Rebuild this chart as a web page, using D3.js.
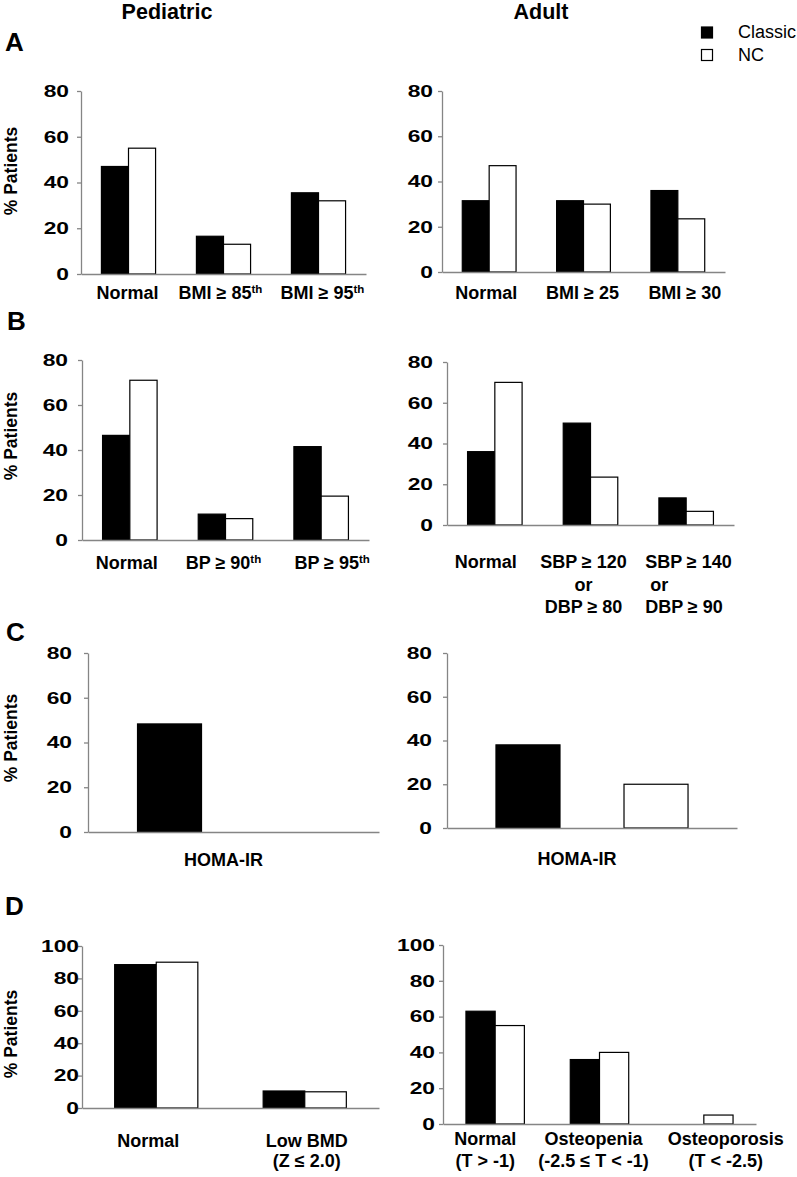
<!DOCTYPE html>
<html>
<head>
<meta charset="utf-8">
<script src="https://cdn.jsdelivr.net/npm/d3@7"></script>
<style>
  html, body { margin: 0; padding: 0; background: #fff; }
  svg { display: block; }
  text { font-family: "Liberation Sans", Arial, sans-serif; fill: #000; }
</style>
</head>
<body>
<svg id="chart" width="797" height="1177"></svg>
<script>
// ---------------- DATA ----------------
const seriesNames = ["Classic", "NC"];
const ticks80 = [0, 20, 40, 60, 80];
const ticks100 = [0, 20, 40, 60, 80, 100];

// "|" separates lines, "^" marks superscript
const catA_ped = ["Normal", "BMI ≥ 85^th", "BMI ≥ 95^th"];
const classicA_ped = [47, 16.5, 35.5];
const ncA_ped = [55, 13, 32];

const catA_adult = ["Normal", "BMI ≥ 25", "BMI ≥ 30"];
const classicA_adult = [31.5, 31.5, 36];
const ncA_adult = [47, 30, 23.5];

const catB_ped = ["Normal", "BP ≥ 90^th", "BP ≥ 95^th"];
const classicB_ped = [46.5, 11.5, 41.5];
const ncB_ped = [71, 9.5, 19.5];

const catB_adult = ["Normal", "SBP ≥ 120|or|DBP ≥ 80", "SBP ≥ 140| or|DBP ≥ 90"];
const classicB_adult = [36, 50, 13.3];
const ncB_adult = [70, 23.5, 6.7];

const catC_ped = ["HOMA-IR"];
const classicC_ped = [48.3];
const ncC_ped = [0];

const catC_adult = ["HOMA-IR"];
const classicC_adult = [38];
const ncC_adult = [20];

const catD_ped = ["Normal", "Low BMD|(Z ≤ 2.0)"];
const classicD_ped = [88.5, 10.5];
const ncD_ped = [90, 10];

const catD_adult = ["Normal|(T > -1)", "Osteopenia|(-2.5 ≤ T < -1)", "Osteoporosis|(T < -2.5)"];
const classicD_adult = [63, 36, 0];
const ncD_adult = [55, 40, 5];

const columnTitles = ["Pediatric", "Adult"];
const panelLetters = ["A", "B", "C", "D"];
const yLabel = "% Patients";

// ---------------- LAYOUT ----------------
const panels = [
  {cats: catA_ped, vals: [classicA_ped, ncA_ped], ticks: ticks80, max: 80,
   x0: 81, x1: 366, yTop: 91, yBot: 274, pi: 0.43, po: 0.215, sp: 0, gap: 12,
   labelY: 299, lineH: 22, dx: [-1, -3, 4]},
  {cats: catA_adult, vals: [classicA_adult, ncA_adult], ticks: ticks80, max: 80,
   x0: 442, x1: 725, yTop: 91, yBot: 272, pi: 0.43, po: 0.215, sp: 0, gap: 9,
   labelY: 299, lineH: 22, dx: [-3, -1, 7]},
  {cats: catB_ped, vals: [classicB_ped, ncB_ped], ticks: ticks80, max: 80,
   x0: 82, x1: 369, yTop: 360, yBot: 540, pi: 0.43, po: 0.215, sp: 0, gap: 14,
   labelY: 569, lineH: 22, dx: [-3, -2, 11]},
  {cats: catB_adult, vals: [classicB_adult, ncB_adult], ticks: ticks80, max: 80,
   x0: 447, x1: 734, yTop: 362, yBot: 525, pi: 0.43, po: 0.215, sp: 0, gap: 14,
   labelY: 568, lineH: 22.5, dx: [-9, -7, -41], anchor: ["middle", "middle", "start"]},
  {cats: catC_ped, vals: [classicC_ped, ncC_ped], ticks: ticks80, max: 80,
   x0: 88, x1: 379, yTop: 653, yBot: 832, pi: 0, po: 0.258, sp: 0.5, gap: 16,
   labelY: 866, lineH: 22, dx: [-10]},
  {cats: catC_adult, vals: [classicC_adult, ncC_adult], ticks: ticks80, max: 80,
   x0: 447, x1: 737, yTop: 653, yBot: 828, pi: 0, po: 0.255, sp: 0.5, gap: 15,
   labelY: 865, lineH: 22, dx: [-15]},
  {cats: catD_ped, vals: [classicD_ped, ncD_ped], ticks: ticks100, max: 100,
   x0: 82, x1: 379, yTop: 946, yBot: 1108, pi: 0.44, po: 0.22, sp: 0, gap: 3,
   labelY: 1147, lineH: 20, dx: [-8, 2]},
  {cats: catD_adult, vals: [classicD_adult, ncD_adult], ticks: ticks100, max: 100,
   x0: 443, x1: 756, yTop: 945, yBot: 1124, pi: 0.44, po: 0.22, sp: 0, gap: 8,
   labelY: 1145, lineH: 22, dx: [-10, -6, 22]}
];

const svg = d3.select("#chart");
const fills = ["#000", "#fff"];
const axisColor = "#858585";
const tickScale = 1.38;

function addLine(textSel, line) {
  const parts = line.split("^");
  textSel.append("tspan").text(parts[0]);
  if (parts.length > 1) {
    textSel.append("tspan").attr("font-size", 11.5).attr("dy", -6.5).text(parts[1]);
  }
}

panels.forEach(p => {
  const g = svg.append("g");
  const y = d3.scaleLinear().domain([0, p.max]).range([p.yBot, p.yTop]);
  const xg = d3.scaleBand().domain(p.cats).range([p.x0, p.x1]).paddingInner(p.pi).paddingOuter(p.po);
  const xs = d3.scaleBand().domain(seriesNames).range([0, xg.bandwidth()]).paddingInner(p.sp);

  // bars
  seriesNames.forEach((s, si) => {
    g.selectAll(null).data(p.cats.map((c, i) => ({c, v: p.vals[si][i]})).filter(d => d.v > 0))
      .join("rect")
      .attr("x", d => xg(d.c) + xs(s))
      .attr("y", d => y(d.v))
      .attr("width", xs.bandwidth())
      .attr("height", d => y(0) - y(d.v))
      .attr("fill", fills[si])
      .attr("stroke", "#000")
      .attr("stroke-width", 1.2);
  });

  // y axis
  const ax = g.append("g").attr("transform", `translate(${p.x0},0)`)
    .call(d3.axisLeft(y).tickValues(p.ticks).tickSize(4).tickSizeOuter(0));
  ax.select(".domain").attr("stroke", axisColor).attr("stroke-width", 1.3);
  ax.selectAll(".tick line").attr("stroke", axisColor).attr("stroke-width", 1.3);
  ax.selectAll(".tick text")
    .attr("font-family", "'Liberation Sans', Arial, sans-serif")
    .attr("font-weight", "bold")
    .attr("font-size", 16.5)
    .attr("fill", "#000")
    .attr("x", -p.gap / tickScale)
    .attr("transform", `scale(${tickScale},1)`);

  // x axis line
  const xa = g.append("g").attr("transform", `translate(0,${y(0)})`)
    .call(d3.axisBottom(xg).tickSize(0).tickSizeOuter(0).tickFormat(""));
  xa.select(".domain").attr("stroke", axisColor).attr("stroke-width", 1.3);

  // category labels
  p.cats.forEach((c, i) => {
    const anchor = p.anchor ? p.anchor[i] : "middle";
    const cx = xg(c) + xg.bandwidth() / 2 + (p.dx[i] || 0);
    c.split("|").forEach((line, li) => {
      const t = g.append("text")
        .attr("x", cx)
        .attr("y", p.labelY + li * p.lineH)
        .attr("text-anchor", anchor)
        .attr("font-size", 18)
        .attr("font-weight", "bold")
        .style("white-space", "pre");
      addLine(t, line);
    });
  });
});

// column titles
svg.append("text").attr("x", 167).attr("y", 19).attr("text-anchor", "middle")
  .attr("font-size", 21.5).attr("font-weight", "bold").text(columnTitles[0]);
svg.append("text").attr("x", 541).attr("y", 19).attr("text-anchor", "middle")
  .attr("font-size", 21.5).attr("font-weight", "bold").text(columnTitles[1]);

// panel letters
const letterPos = [[5, 51], [7, 330], [6, 641], [5, 915]];
panelLetters.forEach((L, i) => {
  svg.append("text").attr("x", letterPos[i][0]).attr("y", letterPos[i][1])
    .attr("font-size", 26).attr("font-weight", "bold").text(L);
});

// y labels
const yLabelCenters = [171, 436, 738, 1034];
yLabelCenters.forEach(cy => {
  svg.append("text").attr("transform", `translate(17,${cy}) rotate(-90)`)
    .attr("text-anchor", "middle").attr("font-size", 17.5).attr("font-weight", "bold")
    .text(yLabel);
});

// legend
const legend = svg.append("g");
seriesNames.forEach((s, i) => {
  legend.append("rect").attr("x", 701.5).attr("y", 27 + i * 22.5).attr("width", 11).attr("height", 11)
    .attr("fill", fills[i]).attr("stroke", "#000").attr("stroke-width", 1.2);
  legend.append("text").attr("x", 738).attr("y", 38 + i * 23).attr("font-size", 18).text(s);
});
</script>
</body>
</html>
